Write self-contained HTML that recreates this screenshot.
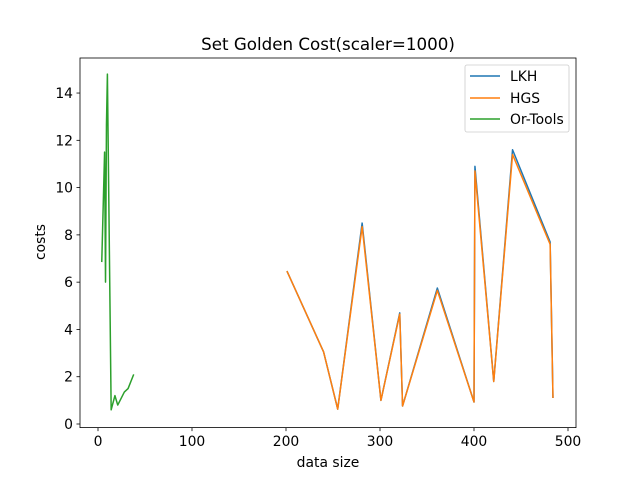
<!DOCTYPE html>
<html><head><meta charset="utf-8"><style>
body{margin:0;background:#fff;}
svg text{font-family:"DejaVu Sans","Liberation Sans",sans-serif;}
</style></head><body>
<svg id="chart" width="640" height="480" xmlns="http://www.w3.org/2000/svg">
<rect width="640" height="480" fill="#fff"/>
<text x="328" y="50" font-size="16.7" text-anchor="middle">Set Golden Cost(scaler=1000)</text>
<g id="plot"></g>
<rect x="80" y="58" width="496" height="369.6" fill="none" stroke="#000" stroke-width="0.8"/>
<g id="ticks"></g>
<text x="328" y="467" font-size="13.9" text-anchor="middle">data size</text>
<text transform="translate(45,242) rotate(-90)" font-size="13.9" text-anchor="middle">costs</text>
<g>
<rect x="465" y="65" width="104" height="67" rx="2" fill="#fff" fill-opacity="0.8" stroke="#ccc" stroke-width="0.8"/>
<line x1="470" y1="76" x2="500" y2="76" stroke="#1f77b4" stroke-width="1.5"/>
<text x="510" y="81" font-size="13.9">LKH</text>
<line x1="470" y1="98" x2="500" y2="98" stroke="#ff7f0e" stroke-width="1.5"/>
<text x="510" y="103" font-size="13.9">HGS</text>
<line x1="470" y1="119" x2="500" y2="119" stroke="#2ca02c" stroke-width="1.5"/>
<text x="510" y="124" font-size="13.9">Or-Tools</text>
</g>
</svg>
<script>
const sizes=[201,240,255,281,301,321,324,361,400,401,421,441,481,484];
const lkh=[6.47,3.05,0.63,8.5,1.0,4.7,0.76,5.75,0.93,10.9,1.8,11.6,7.7,1.1];
const hgs=[6.47,3.05,0.63,8.35,1.0,4.65,0.76,5.65,0.93,10.7,1.8,11.4,7.6,1.1];
const orSizes=[4,7,8,9,10,14,18,21,28,32,38];
const orCosts=[6.85,11.5,6.0,12.65,14.8,0.6,1.2,0.8,1.35,1.5,2.1];
const xTicks=[0,100,200,300,400,500];
const yTicks=[0,2,4,6,8,10,12,14];
const NS="http://www.w3.org/2000/svg";
function sx(v){return 98+v*0.94;}
function sy(v){return 424-v*23.64;}
const plot=document.getElementById('plot');
function line(xs,ys,color,name){
  const p=document.createElementNS(NS,'polyline');
  p.setAttribute('points',xs.map((x,i)=>sx(x)+','+sy(ys[i])).join(' '));
  p.setAttribute('fill','none');p.setAttribute('stroke',color);
  p.setAttribute('stroke-width','1.5');p.setAttribute('stroke-linejoin','round');
  
  
  plot.appendChild(p);
}
line(sizes,lkh,'#1f77b4','lkh-line');
line(sizes,hgs,'#ff7f0e','hgs-line');
line(orSizes,orCosts,'#2ca02c','ortools-line');
const tg=document.getElementById('ticks');
xTicks.forEach(t=>{
  const l=document.createElementNS(NS,'line');
  l.setAttribute('x1',sx(t));l.setAttribute('x2',sx(t));l.setAttribute('y1',427.6);l.setAttribute('y2',431.1);
  l.setAttribute('stroke','#000');l.setAttribute('stroke-width','0.8');
  
  
  tg.appendChild(l);
  const tx=document.createElementNS(NS,'text');
  tx.setAttribute('x',sx(t));tx.setAttribute('y',446);tx.setAttribute('font-size','13.9');tx.setAttribute('text-anchor','middle');
  tx.textContent=t;
  
  
  tg.appendChild(tx);
});
yTicks.forEach(t=>{
  const l=document.createElementNS(NS,'line');
  l.setAttribute('x1',76.5);l.setAttribute('x2',80);l.setAttribute('y1',sy(t));l.setAttribute('y2',sy(t));
  l.setAttribute('stroke','#000');l.setAttribute('stroke-width','0.8');
  
  
  tg.appendChild(l);
  const tx=document.createElementNS(NS,'text');
  tx.setAttribute('x',73);tx.setAttribute('y',sy(t)+5);tx.setAttribute('font-size','13.9');tx.setAttribute('text-anchor','end');
  tx.textContent=t;
  
  
  tg.appendChild(tx);
});
</script>
</body></html>
